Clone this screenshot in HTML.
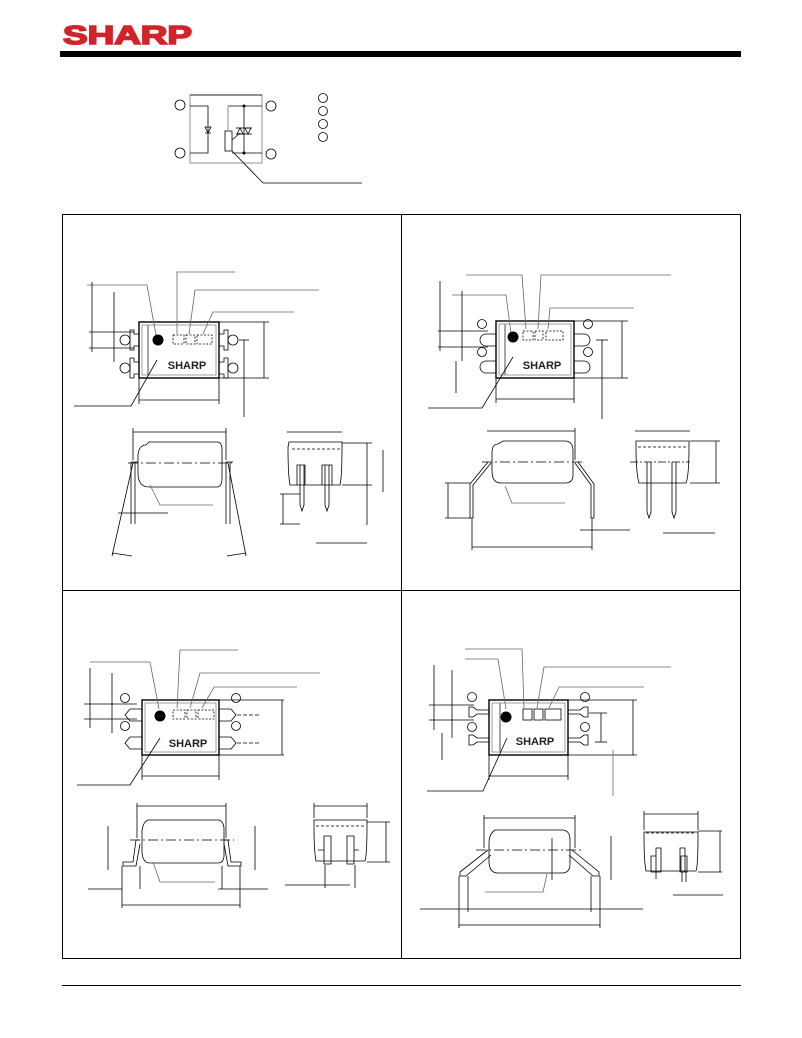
<!DOCTYPE html>
<html><head><meta charset="utf-8"><style>
html,body{margin:0;padding:0;background:#fff;}
svg{display:block;}
text{font-family:"Liberation Sans",sans-serif;}
</style></head><body>
<svg width="802" height="1038" viewBox="0 0 802 1038" xmlns="http://www.w3.org/2000/svg">
<!-- header -->
<text x="63" y="44" font-size="26" font-weight="bold" fill="#d2232a" stroke="#d2232a" stroke-width="1.6" textLength="129" lengthAdjust="spacingAndGlyphs">SHARP</text>
<rect x="60" y="51" width="681" height="6" fill="#000"/>

<!-- schematic -->
<g fill="none" stroke="#000" stroke-width="0.8">
<rect x="190" y="95" width="72" height="68" stroke="#777"/>
<line x1="190" y1="95" x2="262" y2="95"/>
<polyline points="190,106 208,106 208,153 190,153"/>
<polyline points="228,106 262,106"/>
<line x1="228" y1="106" x2="228" y2="130" stroke="#777"/>
<line x1="244" y1="106" x2="244" y2="153"/>
<polyline points="232,153 262,153"/>
<rect x="225" y="131" width="7" height="20" fill="#fff"/>
<polygon points="205,127 211,127 208,133" />
<line x1="205" y1="133" x2="211" y2="133"/>
<polygon points="237,134 243,134 240,128"/>
<polygon points="245,128 251,128 248,134"/>
<line x1="236" y1="128" x2="252" y2="128"/>
<line x1="236" y1="134" x2="252" y2="134"/>
<line x1="232" y1="140" x2="240" y2="133"/>
<circle cx="180" cy="105" r="5"/><circle cx="180" cy="153" r="5"/>
<circle cx="271" cy="106" r="5"/><circle cx="271" cy="154" r="5"/>
<circle cx="323" cy="98" r="4.5"/><circle cx="323" cy="111" r="4.5"/>
<circle cx="323" cy="124" r="4.5"/><circle cx="323" cy="137" r="4.5"/>
<polyline points="232,151 263,183 362,183"/>
</g>
<circle cx="244" cy="106" r="1.5"/><circle cx="244" cy="153" r="1.5"/>

<!-- frame -->
<g fill="none" stroke="#000" stroke-width="1">
<rect x="62.5" y="214.5" width="678" height="744"/>
<line x1="401.5" y1="214" x2="401.5" y2="959"/>
<line x1="62" y1="590.5" x2="741" y2="590.5"/>
</g>
<line x1="62" y1="985.5" x2="741" y2="985.5" stroke="#000"/>

<!-- top views -->
<g transform="translate(139,322)">
<g fill="none" stroke="#000" stroke-width="0.8">
<rect x="0" y="0" width="80" height="56" stroke-width="1.4"/>
<rect x="3" y="3" width="74" height="50" stroke="#888"/>
<line x1="9" y1="3" x2="9" y2="53" stroke="#888" stroke-width="1.5"/>
<rect x="34" y="13" width="11" height="9" stroke-dasharray="2,1.5"/>
<rect x="47" y="13" width="9" height="9" stroke-dasharray="2,1.5"/>
<rect x="58" y="13" width="15" height="9" stroke-dasharray="2,1.5"/>
<path d="M0,12 h-5 v-4 h-4 v20 h4 v-4 h5"/>
<path d="M0,40 h-5 v-4 h-4 v20 h4 v-4 h5"/>
<path d="M80,12 h5 v-4 h4 v20 h-4 v-4 h-5"/>
<path d="M80,40 h5 v-4 h4 v20 h-4 v-4 h-5"/>
<circle cx="-14" cy="18" r="5"/><circle cx="-14" cy="46" r="5"/>
<circle cx="94" cy="18" r="5"/><circle cx="94" cy="46" r="5"/>
<polyline points="17,13 8,-37 -52,-37" stroke="#666"/>
<polyline points="38,12 38,-50 96,-50" stroke="#666"/>
<polyline points="50,12 56,-32 180,-32" stroke="#666"/>
<polyline points="64,12 74,-10 155,-10" stroke="#666"/>
<polyline points="18,38 -8,84 -65,84"/>
<line x1="0" y1="56" x2="0" y2="82"/><line x1="80" y1="56" x2="80" y2="82"/>
<line x1="0" y1="78" x2="80" y2="78"/>
<line x1="80" y1="0" x2="130" y2="0"/><line x1="80" y1="56" x2="130" y2="56"/>
<line x1="125" y1="0" x2="125" y2="56"/>
<line x1="100" y1="18" x2="110" y2="18"/><line x1="105" y1="18" x2="105" y2="95"/>
<line x1="-47" y1="-40" x2="-47" y2="30"/><line x1="-25" y1="-30" x2="-25" y2="40"/>
<line x1="-50" y1="10" x2="-5" y2="10"/><line x1="-50" y1="26" x2="-5" y2="26"/>
</g>
<circle cx="19" cy="18" r="5.5" fill="#000"/>
<text x="48" y="47" font-size="11" font-weight="bold" text-anchor="middle" fill="#222">SHARP</text>
</g>

<g transform="translate(496,321)">
<g fill="none" stroke="#000" stroke-width="0.8">
<rect x="0" y="0" width="78" height="57" stroke-width="1.4"/>
<rect x="3" y="3" width="72" height="51" stroke="#888"/>
<line x1="9" y1="3" x2="9" y2="54" stroke="#888" stroke-width="1.5"/>
<rect x="27" y="10" width="10" height="9" stroke-dasharray="2,1.5"/>
<rect x="39" y="10" width="8" height="9" stroke-dasharray="2,1.5"/>
<rect x="50" y="10" width="17" height="9" stroke-dasharray="2,1.5"/>
<path d="M0,13 h-10 a5,5 0 0 0 0,12 h10"/>
<path d="M0,40 h-10 a5,5 0 0 0 0,12 h10"/>
<path d="M78,13 h10 a5,5 0 0 1 0,12 h-10"/>
<path d="M78,40 h10 a5,5 0 0 1 0,12 h-10"/>
<circle cx="-14" cy="3" r="4.5"/><circle cx="-14" cy="31" r="4.5"/>
<circle cx="92" cy="3" r="4.5"/><circle cx="92" cy="31" r="4.5"/>
<polyline points="15,12 10,-26 -44,-26" stroke="#666"/>
<polyline points="30,8 26,-46 -30,-46" stroke="#666"/>
<polyline points="42,8 45,-46 175,-46" stroke="#666"/>
<polyline points="52,8 54,-13 138,-13" stroke="#666"/>
<polyline points="17,36 -14,87 -68,87"/>
<line x1="0" y1="57" x2="0" y2="82"/><line x1="78" y1="57" x2="78" y2="82"/>
<line x1="0" y1="78" x2="78" y2="78"/>
<line x1="78" y1="0" x2="132" y2="0"/><line x1="78" y1="57" x2="132" y2="57"/>
<line x1="126" y1="0" x2="126" y2="57"/>
<line x1="100" y1="19" x2="112" y2="19"/><line x1="106" y1="19" x2="106" y2="98"/>
<line x1="-56" y1="-40" x2="-56" y2="30"/><line x1="-34" y1="-30" x2="-34" y2="40"/>
<line x1="-58" y1="10" x2="-8" y2="10"/><line x1="-58" y1="26" x2="-8" y2="26"/>
<line x1="-40" y1="40" x2="-40" y2="72"/>
</g>
<circle cx="17" cy="16" r="5.5" fill="#000"/>
<text x="46" y="48" font-size="11" font-weight="bold" text-anchor="middle" fill="#222">SHARP</text>
</g>

<g transform="translate(142,700)">
<g fill="none" stroke="#000" stroke-width="0.8">
<rect x="0" y="0" width="77" height="55" stroke-width="1.4"/>
<rect x="3" y="3" width="71" height="49" stroke="#888"/>
<rect x="31" y="10" width="12" height="9" stroke-dasharray="2,1.5"/>
<rect x="45" y="10" width="9" height="9" stroke-dasharray="2,1.5"/>
<rect x="56" y="10" width="16" height="9" stroke-dasharray="2,1.5"/>
<path d="M0,9 h-12 l-5,6 l5,6 h12"/>
<path d="M0,37 h-12 l-5,6 l5,6 h12"/>
<path d="M77,9 h12 l5,6 l-5,6 h-12"/>
<path d="M77,37 h12 l5,6 l-5,6 h-12"/>
<circle cx="-17" cy="-2" r="4.5"/><circle cx="-17" cy="26" r="4.5"/>
<circle cx="94" cy="-2" r="4.5"/><circle cx="94" cy="26" r="4.5"/>
<polyline points="17,9 8,-38 -52,-38" stroke="#666"/>
<polyline points="35,8 38,-50 96,-50" stroke="#666"/>
<polyline points="48,8 58,-27 178,-27" stroke="#666"/>
<polyline points="60,8 72,-13 155,-13" stroke="#666"/>
<polyline points="18,38 -12,85 -65,85"/>
<line x1="0" y1="55" x2="0" y2="80"/><line x1="77" y1="55" x2="77" y2="80"/>
<line x1="0" y1="76" x2="77" y2="76"/>
<line x1="77" y1="0" x2="142" y2="0"/><line x1="77" y1="55" x2="142" y2="55"/>
<line x1="140" y1="0" x2="140" y2="55"/>
<line x1="95" y1="15" x2="118" y2="15" stroke-dasharray="4,2"/>
<line x1="95" y1="43" x2="118" y2="43" stroke-dasharray="4,2"/>
<line x1="-52" y1="-32" x2="-52" y2="28"/><line x1="-30" y1="-27" x2="-30" y2="33"/>
<line x1="-58" y1="4" x2="-5" y2="4"/><line x1="-58" y1="19" x2="-5" y2="19"/>
</g>
<circle cx="18" cy="16" r="5.5" fill="#000"/>
<text x="46" y="47" font-size="11" font-weight="bold" text-anchor="middle" fill="#222">SHARP</text>
</g>

<g transform="translate(489,700)">
<g fill="none" stroke="#000" stroke-width="0.8">
<rect x="0" y="0" width="79" height="55" stroke-width="1.4"/>
<rect x="3" y="3" width="73" height="49" stroke="#888"/>
<line x1="11" y1="3" x2="11" y2="52" stroke="#888" stroke-width="1.5"/>
<rect x="34" y="9" width="9" height="11"/>
<rect x="45" y="9" width="9" height="11"/>
<rect x="56" y="9" width="16" height="11"/>
<path d="M0,10 h-12 l-4,-3 h-4 v10 h4 l4,-3 h12" />
<path d="M0,38 h-12 l-4,-3 h-4 v10 h4 l4,-3 h12" />
<path d="M79,10 h12 l4,-3 h4 v10 h-4 l-4,-3 h-12" />
<path d="M79,38 h12 l4,-3 h4 v10 h-4 l-4,-3 h-12" />
<circle cx="-17" cy="-3" r="4.5"/><circle cx="-17" cy="27" r="4.5"/>
<circle cx="96" cy="-3" r="4.5"/><circle cx="96" cy="27" r="4.5"/>
<polyline points="17,9 9,-41 -24,-41" stroke="#666"/>
<polyline points="35,8 33,-51 -24,-51" stroke="#666"/>
<polyline points="48,8 55,-33 182,-33" stroke="#666"/>
<polyline points="60,8 70,-13 155,-13" stroke="#666"/>
<polyline points="18,38 -6,91 -62,91"/>
<line x1="0" y1="55" x2="0" y2="80"/><line x1="79" y1="55" x2="79" y2="80"/>
<line x1="0" y1="76" x2="79" y2="76"/>
<line x1="79" y1="0" x2="148" y2="0"/><line x1="79" y1="55" x2="148" y2="55"/>
<line x1="144" y1="0" x2="144" y2="55"/>
<line x1="100" y1="13" x2="118" y2="13"/><line x1="112" y1="13" x2="112" y2="42"/>
<line x1="106" y1="42" x2="118" y2="42"/>
<line x1="124" y1="50" x2="124" y2="96" stroke="#666"/>
<line x1="-55" y1="-35" x2="-55" y2="30"/><line x1="-37" y1="-30" x2="-37" y2="38"/>
<line x1="-60" y1="5" x2="-15" y2="5"/><line x1="-60" y1="20" x2="-15" y2="20"/>
<line x1="-47" y1="33" x2="-47" y2="60"/>
</g>
<circle cx="17" cy="17" r="5.5" fill="#000"/>
<text x="46" y="45" font-size="11" font-weight="bold" text-anchor="middle" fill="#222">SHARP</text>
</g>

<!-- side views -->
<g fill="none" stroke="#000" stroke-width="0.8">
<!-- Q1 -->
<path d="M149,442 h68 q5,0 5,8 v28 q0,9 -5,9 h-68 q-10,0 -11,-12 v-20 q1,-10 8,-10 z"/>
<line x1="128" y1="463" x2="232" y2="463" stroke-dasharray="10,3,2,3"/>
<path d="M131,462 h7 M131,462 v62 M135,462 v62 M226,462 h7 M226,462 v62 M230,462 v62"/>
<line x1="133" y1="432" x2="226" y2="432"/><line x1="133" y1="428" x2="133" y2="460"/><line x1="226" y1="428" x2="226" y2="460"/>
<line x1="133" y1="463" x2="112" y2="556"/><line x1="228" y1="463" x2="246" y2="556"/>
<line x1="112" y1="553" x2="132" y2="556"/><line x1="227" y1="556" x2="246" y2="553"/>
<line x1="118" y1="513" x2="168" y2="513"/>
<polyline points="150,485 160,505 213,505" stroke="#666"/>
<path d="M289,442 h53 v5 q0,30 -2,38 h-50 q-2,-10 -2,-38 z"/>
<line x1="292" y1="449" x2="340" y2="449" stroke-dasharray="3,2"/>
<line x1="287" y1="432" x2="342" y2="432"/>
<path d="M300,465 v40 l2,6 l2,-6 v-40 M325,465 v40 l2,6 l2,-6 v-40 M297,485 v-20 h8 v20 M322,485 v-20 h10 v20"/>
<line x1="280" y1="494" x2="300" y2="494"/><line x1="280" y1="524" x2="300" y2="524"/><line x1="283" y1="494" x2="283" y2="524"/>
<line x1="342" y1="443" x2="372" y2="443"/><line x1="342" y1="485" x2="372" y2="485"/>
<line x1="367" y1="443" x2="367" y2="525"/><line x1="383" y1="450" x2="383" y2="492"/>
<line x1="316" y1="543" x2="367" y2="543"/>
<!-- Q2 -->
<path d="M503,441 h62 q8,0 8,10 v24 q0,8 -8,8 h-64 q-9,0 -9,-12 v-18 q0,-9 6,-9 z"/>
<line x1="482" y1="462" x2="584" y2="462" stroke-dasharray="10,3,2,3"/>
<path d="M488,462 l-18,22 v34 h3 v-33 l18,-22 M578,462 l16,22 v34 h-3 v-33 l-16,-22"/>
<line x1="487" y1="431" x2="575" y2="431"/><line x1="575" y1="428" x2="575" y2="460"/>
<line x1="472" y1="547" x2="592" y2="547"/><line x1="472" y1="518" x2="472" y2="550"/><line x1="592" y1="518" x2="592" y2="550"/>
<line x1="445" y1="483" x2="470" y2="483"/><line x1="445" y1="518" x2="470" y2="518"/><line x1="448" y1="483" x2="448" y2="518"/>
<line x1="580" y1="530" x2="630" y2="530"/>
<polyline points="505,486 512,503 565,503" stroke="#666"/>
<path d="M636,441 h53 v5 q0,30 -3,37 h-47 q-3,-10 -3,-37 z"/>
<line x1="638" y1="447" x2="687" y2="447" stroke-dasharray="3,2"/>
<line x1="635" y1="431" x2="690" y2="431"/>
<line x1="630" y1="462" x2="690" y2="462" stroke-dasharray="8,2,2,2"/>
<path d="M647,462 v50 l2,6 l2,-6 v-50 M672,462 v50 l2,6 l2,-6 v-50"/>
<line x1="690" y1="441" x2="720" y2="441"/><line x1="690" y1="483" x2="720" y2="483"/><line x1="716" y1="441" x2="716" y2="483"/>
<line x1="663" y1="533" x2="715" y2="533"/>
<!-- Q3 -->
<path d="M152,820 h66 q5,0 6,8 v27 q0,8 -6,8 h-68 q-7,0 -8,-10 v-22 q1,-9 6,-11 z"/>
<line x1="130" y1="840" x2="234" y2="840" stroke-dasharray="10,3,2,3"/>
<path d="M140,840 h-4 l-3,22 h-10 v4 h13 l4,-22 M224,840 h4 l3,22 h10 v4 h-13 l-4,-22"/>
<line x1="137" y1="806" x2="226" y2="806"/><line x1="137" y1="803" x2="137" y2="838"/><line x1="226" y1="803" x2="226" y2="838"/>
<line x1="122" y1="905" x2="240" y2="905"/><line x1="122" y1="866" x2="122" y2="908"/><line x1="240" y1="866" x2="240" y2="908"/>
<line x1="88" y1="889" x2="122" y2="889"/><line x1="140" y1="889" x2="140" y2="866"/>
<line x1="218" y1="889" x2="268" y2="889"/><line x1="222" y1="889" x2="222" y2="866"/>
<line x1="108" y1="826" x2="108" y2="870"/><line x1="255" y1="826" x2="255" y2="870"/>
<polyline points="153,862 160,882 215,882" stroke="#666"/>
<path d="M314,820 h53 v5 q0,30 -2,36 h-49 q-2,-10 -2,-36 z"/>
<line x1="316" y1="826" x2="365" y2="826" stroke-dasharray="3,2"/>
<line x1="314" y1="806" x2="367" y2="806"/><line x1="314" y1="803" x2="314" y2="818"/><line x1="367" y1="803" x2="367" y2="818"/>
<path d="M324,836 v28 h7 v-28 z M318,850 h6 M347,836 v28 h7 v-28 z M354,850 h5"/>
<line x1="367" y1="822" x2="390" y2="822"/><line x1="367" y1="862" x2="390" y2="862"/><line x1="386" y1="822" x2="386" y2="862"/>
<line x1="285" y1="885" x2="350" y2="885"/><line x1="325" y1="865" x2="325" y2="888"/><line x1="355" y1="865" x2="355" y2="888"/>
<!-- Q4 -->
<path d="M500,830 h62 q8,0 8,10 v24 q0,9 -8,9 h-64 q-9,0 -9,-12 v-18 q0,-9 6,-13 z"/>
<line x1="476" y1="850" x2="582" y2="850" stroke-dasharray="10,3,2,3"/>
<path d="M488,850 l-28,22 v4 h6 l25,-21 M572,850 l27,22 v4 h-6 l-24,-21"/>
<line x1="484" y1="818" x2="575" y2="818"/><line x1="484" y1="815" x2="484" y2="848"/><line x1="575" y1="815" x2="575" y2="848"/>
<line x1="420" y1="909" x2="643" y2="909"/>
<line x1="459" y1="925" x2="600" y2="925"/><line x1="459" y1="876" x2="459" y2="928"/><line x1="600" y1="876" x2="600" y2="928"/>
<line x1="468" y1="876" x2="468" y2="912"/><line x1="591" y1="876" x2="591" y2="912"/>
<line x1="552" y1="838" x2="552" y2="880"/><line x1="611" y1="836" x2="611" y2="880"/>
<polyline points="547,874 543,892 485,892" stroke="#666"/>
<path d="M644,832 h54 v4 q0,30 -2,35 h-50 q-2,-10 -2,-35 z"/>
<line x1="646" y1="833" x2="696" y2="833" stroke-dasharray="3,2"/>
<line x1="644" y1="814" x2="698" y2="814"/><line x1="644" y1="811" x2="644" y2="830"/><line x1="698" y1="811" x2="698" y2="830"/>
<path d="M651,856 v16 h5 v-16 z M656,848 v24 h5 v-24 z M681,856 v16 h6 v-16 z M680,848 v24 h5 v-24 z M656,872 v7 M682,872 v10 M686,872 v10"/>
<line x1="698" y1="831" x2="722" y2="831"/><line x1="698" y1="872" x2="722" y2="872"/><line x1="720" y1="831" x2="720" y2="872"/>
<line x1="673" y1="895" x2="723" y2="895"/>
</g>
</svg>
</body></html>
